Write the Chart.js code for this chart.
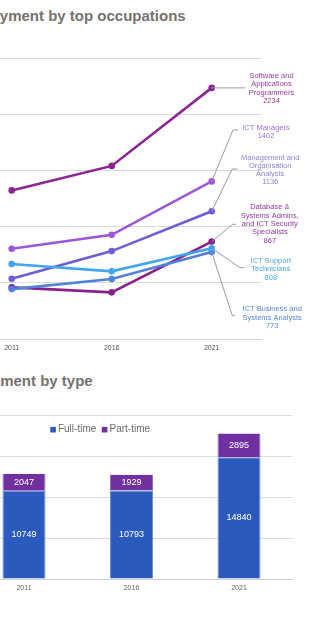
<!DOCTYPE html>
<html>
<head>
<meta charset="utf-8">
<title>ICT employment</title>
<script src="https://cdn.jsdelivr.net/npm/chart.js@4.4.1/dist/chart.umd.min.js"></script>
<style>
  body {
    margin: 0;
    width: 324px;
    height: 624px;
    position: relative;
    overflow: hidden;
    background: #fff;
    font-family: "Liberation Sans", Arial, sans-serif;
  }
  .heading {
    position: absolute;
    margin: 0;
    font-size: 15px;
    line-height: 18px;
    font-weight: bold;
    color: #787170;
    white-space: nowrap;
  }
  #occHeading { left: -46px; top: 7px; }
  #typeHeading { left: -54px; top: 372px; }
  canvas { position: absolute; }
  #occChart { left: -60px; top: 40px; }
  #typeChart { left: -60px; top: 395px; }
</style>
</head>
<body>
<h2 class="heading" id="occHeading">Employment by top occupations</h2>
<canvas id="occChart" width="384" height="320"></canvas>
<h2 class="heading" id="typeHeading">Employment by type</h2>
<canvas id="typeChart" width="384" height="229"></canvas>

<script>
// census years shared by both charts
const years = ["2011", "2016", "2021"];

// employment by occupation
const softwareProgrammers = [1322, 1540, 2234];
const ictManagers = [803, 927, 1402];
const mgmtAnalysts = [536, 782, 1136];
const dbSecurity = [459, 415, 867];
const ictSupport = [667, 602, 808];
const ictBusiness = [444, 533, 773];
const occTicks = [0, 500, 1000, 1500, 2000, 2500];

const occNames = [
  ["Software and", "Applications", "Programmers"],
  ["ICT Managers"],
  ["Management and", "Organisation", "Analysts"],
  ["Database &", "Systems Admins,", "and ICT Security", "Specialists"],
  ["ICT Support", "Technicians"],
  ["ICT Business and", "Systems Analysts"],
];

// employment by type
const fullTime = [10749, 10793, 14840];
const partTime = [2047, 1929, 2895];
const typeTicks = [0, 5000, 10000, 15000, 20000];

Chart.defaults.font.family = "'Liberation Sans', Arial, sans-serif";
Chart.defaults.animation = false;

// where each callout sits to the right of the plot (canvas px)
const calloutSpots = [
  { cx: 331.5, ty: 36, elbowX: null, elbowY: null, endX: 305 },
  { cx: 326, ty: 87.7, elbowX: 293, elbowY: 90, endX: 298 },
  { cx: 330.2, ty: 117.5, elbowX: 292.3, elbowY: 129, endX: 297.3 },
  { cx: 329.8, ty: 167.3, elbowX: 292.7, elbowY: 184.3, endX: 296 },
  { cx: 330.8, ty: 221, elbowX: 300, elbowY: 227.7, endX: 304 },
  { cx: 332.2, ty: 269.3, elbowX: 292.3, elbowY: 275.7, endX: 295 },
];
const calloutColors = ["#9d3aa8", "#9e70e0", "#8e86dc", "#9a38a6", "#4aa6ef", "#5a86e0"];

const occCallouts = {
  id: "occCallouts",
  afterDatasetsDraw(chart) {
    const ctx = chart.ctx;
    ctx.save();
    chart.data.datasets.forEach((ds, i) => {
      const meta = chart.getDatasetMeta(i);
      const last = meta.data[meta.data.length - 1];
      const spot = calloutSpots[i];

      // leader line from the 2021 point to its label
      ctx.strokeStyle = "#9a9a9a";
      ctx.lineWidth = 1;
      ctx.beginPath();
      ctx.moveTo(last.x, last.y);
      if (spot.elbowX === null) {
        ctx.lineTo(spot.endX, last.y);
      } else {
        ctx.lineTo(spot.elbowX, spot.elbowY);
        ctx.lineTo(spot.endX, spot.elbowY);
      }
      ctx.stroke();

      const lines = occNames[i].concat(String(ds.data[ds.data.length - 1]));
      ctx.fillStyle = calloutColors[i];
      ctx.font = "7.5px 'Liberation Sans', Arial, sans-serif";
      ctx.textAlign = "center";
      ctx.textBaseline = "middle";
      lines.forEach((txt, n) => {
        ctx.fillText(txt, spot.cx, spot.ty + n * 8.3);
      });
    });
    ctx.restore();
  },
};

// lower order is drawn on top
function occLine(label, data, color, order) {
  return {
    label: label,
    data: data,
    order: order,
    borderColor: color,
    backgroundColor: color,
    borderWidth: 2.6,
    pointRadius: 3.3,
    pointBorderWidth: 0,
    tension: 0,
    fill: false,
  };
}

const occEl = document.getElementById("occChart");
if (occEl) {
  const occChart = new Chart(occEl.getContext("2d"), {
    type: "line",
    data: {
      labels: years,
      datasets: [
        occLine("Software and Applications Programmers", softwareProgrammers, "#8d2595", 6),
        occLine("ICT Managers", ictManagers, "#9a57d8", 5),
        occLine("Management and Organisation Analysts", mgmtAnalysts, "#6e5cd8", 4),
        occLine("Database & Systems Admins, and ICT Security Specialists", dbSecurity, "#8a1f8a", 3),
        occLine("ICT Support Technicians", ictSupport, "#3fa6ef", 1),
        occLine("ICT Business and Systems Analysts", ictBusiness, "#5181dc", 2),
      ],
    },
    options: {
      responsive: false,
      layout: { padding: { left: 21.7, right: 62.3, top: 18, bottom: 9 } },
      plugins: {
        legend: { display: false },
        tooltip: { enabled: false },
      },
      scales: {
        x: {
          offset: true,
          grid: { display: false, drawTicks: false },
          border: { color: "#d4d4d4", width: 1 },
          ticks: { color: "#555", font: { size: 7 }, padding: 5 },
          afterFit: (axis) => {
            axis.height = 12;
          },
        },
        y: {
          min: occTicks[0],
          max: occTicks[occTicks.length - 1],
          afterBuildTicks: (axis) => {
            axis.ticks = occTicks.map((v) => ({ value: v }));
          },
          grid: { color: "#dcdcdc", drawTicks: false },
          border: { display: false },
          ticks: { display: false },
        },
      },
    },
    plugins: [occCallouts],
  });
}

// stacked bar labels and the inline legend
const barValues = {
  id: "barValues",
  afterDatasetsDraw(chart) {
    const ctx = chart.ctx;
    ctx.save();
    ctx.fillStyle = "#fff";
    ctx.font = "9px 'Liberation Sans', Arial, sans-serif";
    ctx.textAlign = "center";
    ctx.textBaseline = "middle";
    chart.data.datasets.forEach((ds, i) => {
      chart.getDatasetMeta(i).data.forEach((bar, j) => {
        const p = bar.getProps(["x", "y", "base"], true);
        ctx.fillText(String(ds.data[j]), p.x, (p.y + p.base) / 2);
      });
    });
    ctx.restore();
  },
};

const typeLegend = {
  id: "typeLegend",
  afterDraw(chart) {
    const ctx = chart.ctx;
    const area = chart.chartArea;
    let x = area.left + 80;
    const y = area.top + 14.7;
    ctx.save();
    ctx.font = "10px 'Liberation Sans', Arial, sans-serif";
    ctx.textBaseline = "middle";
    ctx.textAlign = "left";
    chart.data.datasets.forEach((ds) => {
      ctx.fillStyle = ds.backgroundColor;
      ctx.fillRect(x, y - 2.8, 5.6, 5.6);
      x += 7.7;
      ctx.fillStyle = "#6a6a6a";
      ctx.fillText(ds.label, x, y);
      x += ctx.measureText(ds.label).width + 5.5;
    });
    ctx.restore();
  },
};

const typeEl = document.getElementById("typeChart");
if (typeEl) {
  const typeChart = new Chart(typeEl.getContext("2d"), {
    type: "bar",
    data: {
      labels: years,
      datasets: [
        {
          label: "Full-time",
          data: fullTime,
          backgroundColor: "#2b5abf",
          borderColor: "#6f8fd8",
          borderWidth: { left: 1, right: 1, top: 1, bottom: 0 },
          borderSkipped: false,
        },
        {
          label: "Part-time",
          data: partTime,
          backgroundColor: "#7030a0",
          borderColor: "#9a6cc0",
          borderWidth: { left: 1, right: 1, top: 0, bottom: 0 },
          borderSkipped: false,
        },
      ],
    },
    options: {
      responsive: false,
      layout: { padding: { left: 30.25, right: 31.25, top: 20, bottom: 33 } },
      datasets: {
        bar: { categoryPercentage: 1, barPercentage: 0.4 },
      },
      plugins: {
        legend: { display: false },
        tooltip: { enabled: false },
      },
      scales: {
        x: {
          stacked: true,
          grid: { display: false, drawTicks: false },
          border: { color: "#d0d0d0", width: 1 },
          ticks: { color: "#666", font: { size: 7 }, padding: 4.5 },
          afterFit: (axis) => {
            axis.height = 12;
          },
        },
        y: {
          stacked: true,
          min: typeTicks[0],
          max: typeTicks[typeTicks.length - 1],
          afterBuildTicks: (axis) => {
            axis.ticks = typeTicks.map((v) => ({ value: v }));
          },
          grid: { color: "#dcdcdc", drawTicks: false },
          border: { display: false },
          ticks: { display: false },
        },
      },
    },
    plugins: [barValues, typeLegend],
  });
}
</script>
</body>
</html>
